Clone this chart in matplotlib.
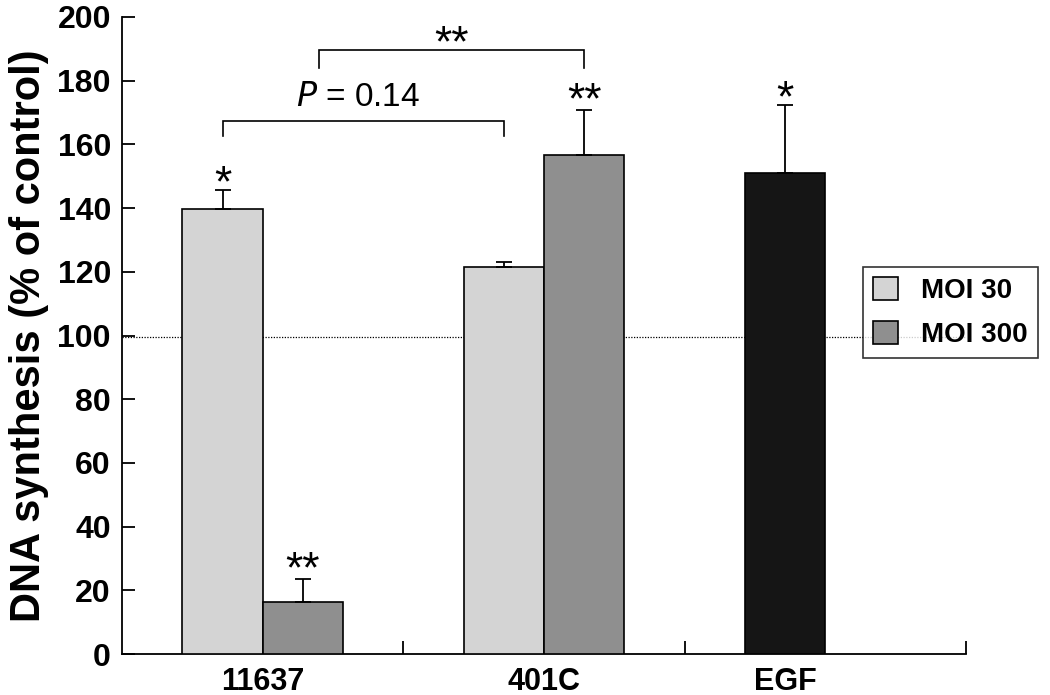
import matplotlib
matplotlib.use("Agg")
import matplotlib.pyplot as plt
import numpy as np

plt.rcParams['font.family'] = ['Liberation Sans', 'DejaVu Sans']

# ---- data ----
groups = ["11637", "401C", "EGF"]
moi30 = [139.7, 121.4]          # 11637, 401C
moi30_err = [6.0, 1.6]
moi300 = [16.4, 156.7]
moi300_err = [7.2, 14.1]
egf = 151.1
egf_err = 21.3
control_level = 99.5
stars_moi30 = ["*", ""]
stars_moi300 = ["**", "**"]
star_egf = "*"
top_label = "**"
legend_labels = ["MOI 30", "MOI 300"]

col30 = "#d4d4d4"
col300 = "#8f8f8f"
colegf = "#151515"

fig = plt.figure(figsize=(10.5, 6.95), dpi=100)
ax = fig.add_axes([122/1050, 1-654/695, (966-122)/1050, (654-17)/695])

w = 0.285
centers = np.arange(len(groups)) + 0.5
x30 = centers[:2] - w/2
x300 = centers[:2] + w/2
xegf = centers[2] - w/2

ekw = dict(elinewidth=1.3, capsize=6, capthick=1.3, ecolor='black')
ax.bar(x30, moi30, w, color=col30, edgecolor='black', linewidth=1.2,
       yerr=[np.zeros(2), moi30_err], error_kw=ekw, label=legend_labels[0], zorder=3)
ax.bar(x300, moi300, w, color=col300, edgecolor='black', linewidth=1.2,
       yerr=[np.zeros(2), moi300_err], error_kw=ekw, label=legend_labels[1], zorder=3)
ax.bar([xegf], [egf], w, color=colegf, edgecolor='black', linewidth=1.2,
       yerr=[[0], [egf_err]], error_kw=ekw, zorder=3)

ax.axhline(control_level, color='black', linestyle=(0, (1, 1.2)), linewidth=0.9, zorder=1)

# stars (baseline placed so the glyph centre sits ~6 units above the error cap)
sfs = 32
base_off = 6.3 - 8.3
def star(x, y, s):
    ax.text(x, y + base_off, s, ha='center', va='baseline', fontsize=sfs, clip_on=False)

for x, v, e, s in zip(x30, moi30, moi30_err, stars_moi30):
    if s:
        star(x, v + e, s)
for x, v, e, s in zip(x300, moi300, moi300_err, stars_moi300):
    if s:
        star(x, v + e + 0.8, s)
star(xegf, egf + egf_err, star_egf)

# brackets
def bracket(x0, x1, ytop, ybot):
    ax.plot([x0, x0, x1, x1], [ybot, ytop, ytop, ybot], color='black', lw=1.2,
            solid_joinstyle='miter', clip_on=False)

bracket(x30[0], x30[1], 167.3, 162.5)
ax.text((x30[0] + x30[1]) / 2 - 0.02, 174.6, r"$\it{P}$" + " = 0.14", ha='center', va='center',
        fontsize=24)
bracket(0.7, x300[1], 189.7, 184.0)
star((0.7 + x300[1]) / 2, 189.7, top_label)

ax.set_xlim(0, 3)
ax.set_ylim(0, 200)
ax.set_yticks(np.arange(0, 201, 20))
ax.set_xticks([centers[0], centers[1], xegf])
ax.set_xticklabels(groups)
ax.set_xticks([1, 2, 3], minor=True)
ax.tick_params(axis='x', which='major', length=0, pad=9, labelsize=22)
ax.tick_params(axis='x', which='minor', direction='in', length=9.5, width=1.3)
ax.tick_params(axis='y', direction='in', length=9, width=1.3, labelsize=23, pad=8)
for lab in ax.get_xticklabels() + ax.get_yticklabels():
    lab.set_fontweight('bold')

for s in ['top', 'right']:
    ax.spines[s].set_visible(False)
for s in ['left', 'bottom']:
    ax.spines[s].set_linewidth(1.3)

ax.set_ylabel("DNA synthesis (% of control)", fontsize=30, fontweight='bold', labelpad=6)

leg = ax.legend(loc='center left', bbox_to_anchor=(863/1050, 1-312.5/695),
                bbox_transform=fig.transFigure, frameon=True, fancybox=False,
                borderaxespad=0, handlelength=0.9, handleheight=0.9, handletextpad=0.85,
                labelspacing=0.6, borderpad=0.35, prop={'weight': 'bold', 'size': 20})
leg.get_frame().set_edgecolor('black')
leg.get_frame().set_linewidth(1.2)
leg.set_zorder(5)

fig.savefig("out.png", dpi=100)
